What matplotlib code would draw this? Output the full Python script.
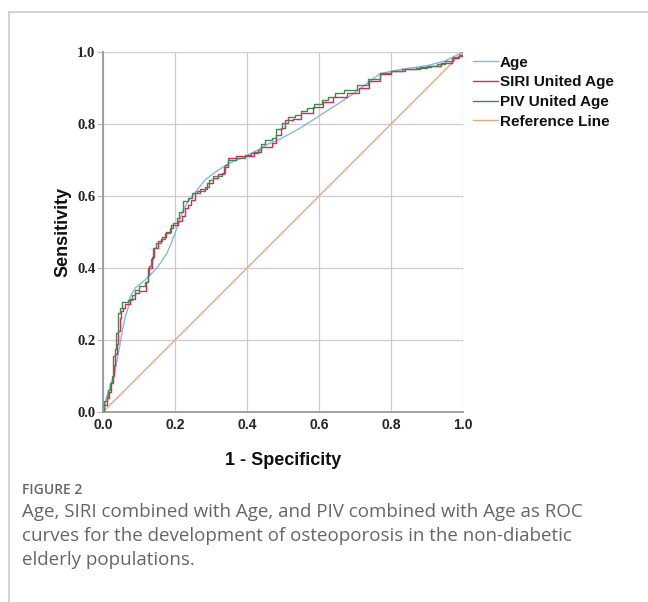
import matplotlib
matplotlib.use("Agg")
import matplotlib.pyplot as plt
from matplotlib.lines import Line2D

# ---------------- data ----------------
age_fpr = [0, 0.005, 0.01, 0.02, 0.033, 0.04, 0.047, 0.056, 0.062, 0.07, 0.075, 0.09, 0.117,
           0.15, 0.177, 0.19, 0.205, 0.223, 0.24, 0.26, 0.283, 0.31, 0.348, 0.394, 0.43,
           0.46, 0.492, 0.55, 0.62, 0.69, 0.73, 0.77, 0.83, 0.9, 0.95, 1.0]
age_tpr = [0, 0.02, 0.043, 0.07, 0.112, 0.15, 0.186, 0.237, 0.265, 0.29, 0.32, 0.345, 0.367,
           0.40, 0.44, 0.47, 0.51, 0.561, 0.59, 0.615, 0.644, 0.665, 0.69, 0.709, 0.728,
           0.745, 0.758, 0.79, 0.835, 0.88, 0.91, 0.94, 0.952, 0.962, 0.975, 1.0]

siri_fpr = [0, 0.004, 0.01, 0.016, 0.022, 0.027, 0.031, 0.034, 0.038, 0.042, 0.046, 0.05,
            0.055, 0.06, 0.075, 0.09, 0.1, 0.112, 0.12, 0.126, 0.135, 0.142, 0.152, 0.165,
            0.175, 0.19, 0.209, 0.22, 0.228, 0.237, 0.245, 0.256, 0.27, 0.29, 0.305, 0.32,
            0.335, 0.348, 0.37, 0.395, 0.42, 0.44, 0.469, 0.48, 0.495, 0.506, 0.528, 0.55,
            0.583, 0.61, 0.64, 0.677, 0.71, 0.74, 0.77, 0.80, 0.84, 0.88, 0.91, 0.94, 0.97,
            0.99, 1.0]
siri_tpr = [0, 0.02, 0.04, 0.055, 0.08, 0.10, 0.13, 0.16, 0.19, 0.225, 0.26, 0.28,
            0.29, 0.30, 0.315, 0.33, 0.335, 0.335, 0.36, 0.40, 0.43, 0.455, 0.475, 0.485,
            0.50, 0.52, 0.53, 0.545, 0.567, 0.575, 0.59, 0.607, 0.62, 0.635, 0.65, 0.66,
            0.68, 0.705, 0.71, 0.712, 0.722, 0.735, 0.746, 0.77, 0.79, 0.81, 0.815, 0.83,
            0.848, 0.86, 0.875, 0.885, 0.90, 0.92, 0.94, 0.947, 0.952, 0.957, 0.962, 0.97, 0.982,
            0.99, 1.0]

piv_fpr = [0, 0.003, 0.01, 0.015, 0.02, 0.024, 0.027, 0.029, 0.033, 0.036, 0.041, 0.043,
           0.048, 0.052, 0.07, 0.08, 0.089, 0.10, 0.117, 0.124, 0.128, 0.134, 0.14, 0.148,
           0.16, 0.172, 0.185, 0.195, 0.205, 0.212, 0.223, 0.235, 0.246, 0.26, 0.283, 0.295,
           0.305, 0.33, 0.34, 0.348, 0.37, 0.394, 0.41, 0.431, 0.44, 0.45, 0.469, 0.48,
           0.496, 0.515, 0.533, 0.55, 0.566, 0.585, 0.607, 0.625, 0.644, 0.67, 0.705, 0.735,
           0.769, 0.8, 0.83, 0.87, 0.899, 0.927, 0.95, 0.973, 0.99, 1.0]
piv_tpr = [0, 0.03, 0.045, 0.06, 0.08, 0.10, 0.125, 0.155, 0.175, 0.22, 0.25, 0.275,
           0.29, 0.305, 0.31, 0.325, 0.34, 0.35, 0.36, 0.38, 0.405, 0.425, 0.455, 0.47,
           0.48, 0.497, 0.51, 0.525, 0.54, 0.555, 0.585, 0.595, 0.607, 0.615, 0.626, 0.645,
           0.655, 0.665, 0.685, 0.70, 0.705, 0.714, 0.72, 0.728, 0.745, 0.756, 0.762, 0.785,
           0.802, 0.82, 0.825, 0.835, 0.845, 0.855, 0.867, 0.875, 0.885, 0.895, 0.908, 0.925,
           0.941, 0.948, 0.952, 0.956, 0.96, 0.968, 0.976, 0.987, 0.993, 1.0]

ref_x = [0, 1]
ref_y = [0, 1]

ticks = [0.0, 0.2, 0.4, 0.6, 0.8, 1.0]
tick_labels = ["0.0", "0.2", "0.4", "0.6", "0.8", "1.0"]
series_names = ["Age", "SIRI United Age", "PIV United Age", "Reference Line"]
x_label = "1 - Specificity"
y_label = "Sensitivity"
fig_tag = "FIGURE 2"
caption = ("Age, SIRI combined with Age, and PIV combined with Age as ROC\n"
           "curves for the development of osteoporosis in the non-diabetic\n"
           "elderly populations.")

# ---------------- figure ----------------
W, H = 648, 602
fig = plt.figure(figsize=(W / 100, H / 100), dpi=100)
fig.patch.set_facecolor("white")

ax = fig.add_axes([103 / W, 1 - 412 / H, 360 / W, 360 / H])
ax.set_xlim(0, 1)
ax.set_ylim(0, 1)

c_age = "#8ab6e2"
c_siri = "#e0245e"
c_piv = "#3f8a4c"
c_ref = "#e9a67e"

ax.plot(age_fpr, age_tpr, color=c_age, lw=1.0, label=series_names[0], zorder=3)
ax.plot(siri_fpr, siri_tpr, color=c_siri, lw=1.0, drawstyle="steps-post",
        label=series_names[1], zorder=4)
ax.plot(piv_fpr, piv_tpr, color=c_piv, lw=1.0, drawstyle="steps-post",
        label=series_names[2], zorder=5)
ax.plot(ref_x, ref_y, color=c_ref, lw=1.0, label=series_names[3], zorder=2)

ax.set_xticks(ticks)
ax.set_yticks(ticks)
ax.set_xticklabels(tick_labels, fontfamily="Liberation Sans", fontweight="bold", fontsize=10)
ax.set_yticklabels(tick_labels, fontfamily="Liberation Serif", fontweight="bold", fontsize=10.5)
ax.tick_params(axis="x", length=0, pad=4, colors="#222222")
ax.tick_params(axis="y", length=4, width=0.8, color="#bbbbbb", pad=1.5, labelcolor="#222222")
ax.grid(True, color="#cccccc", lw=0.9)
ax.set_axisbelow(True)
for s in ["top", "right"]:
    ax.spines[s].set_visible(False)
for s in ["left", "bottom"]:
    ax.spines[s].set_color("#9a9a9a")
    ax.spines[s].set_linewidth(1.3)

ax.set_xlabel(x_label, fontfamily="Liberation Sans", fontweight="bold", fontsize=13,
              labelpad=15, color="#111111")
ax.set_ylabel(y_label, fontfamily="Liberation Sans", fontweight="bold", fontsize=13,
              labelpad=4, color="#111111")

leg = ax.legend(loc="upper left", bbox_to_anchor=(1.0, 1.017), frameon=False,
                prop={"family": "Liberation Sans", "weight": "bold", "size": 11},
                handlelength=1.63, handletextpad=0.13, labelspacing=0.37,
                borderaxespad=0.45, borderpad=0.2)
for t in leg.get_texts():
    t.set_color("#111111")

# frame lines (card border)
fig.add_artist(Line2D([9 / W, 1.0], [1 - 12 / H, 1 - 12 / H], transform=fig.transFigure,
                      color="#cccccc", lw=1.2))
fig.add_artist(Line2D([9 / W, 9 / W], [1 - 12 / H, 0.0], transform=fig.transFigure,
                      color="#cccccc", lw=1.2))

fig.text(22 / W, 1 - 490 / H, fig_tag, fontfamily="Open Sans", fontsize=10,
         color="#666666", va="center", ha="left", fontweight="semibold")
fig.text(22 / W, 1 - 503 / H, caption, fontfamily="Open Sans", fontsize=13.5,
         color="#666666", va="top", ha="left", linespacing=1.42)

fig.savefig("out.png", dpi=100, facecolor="white")
